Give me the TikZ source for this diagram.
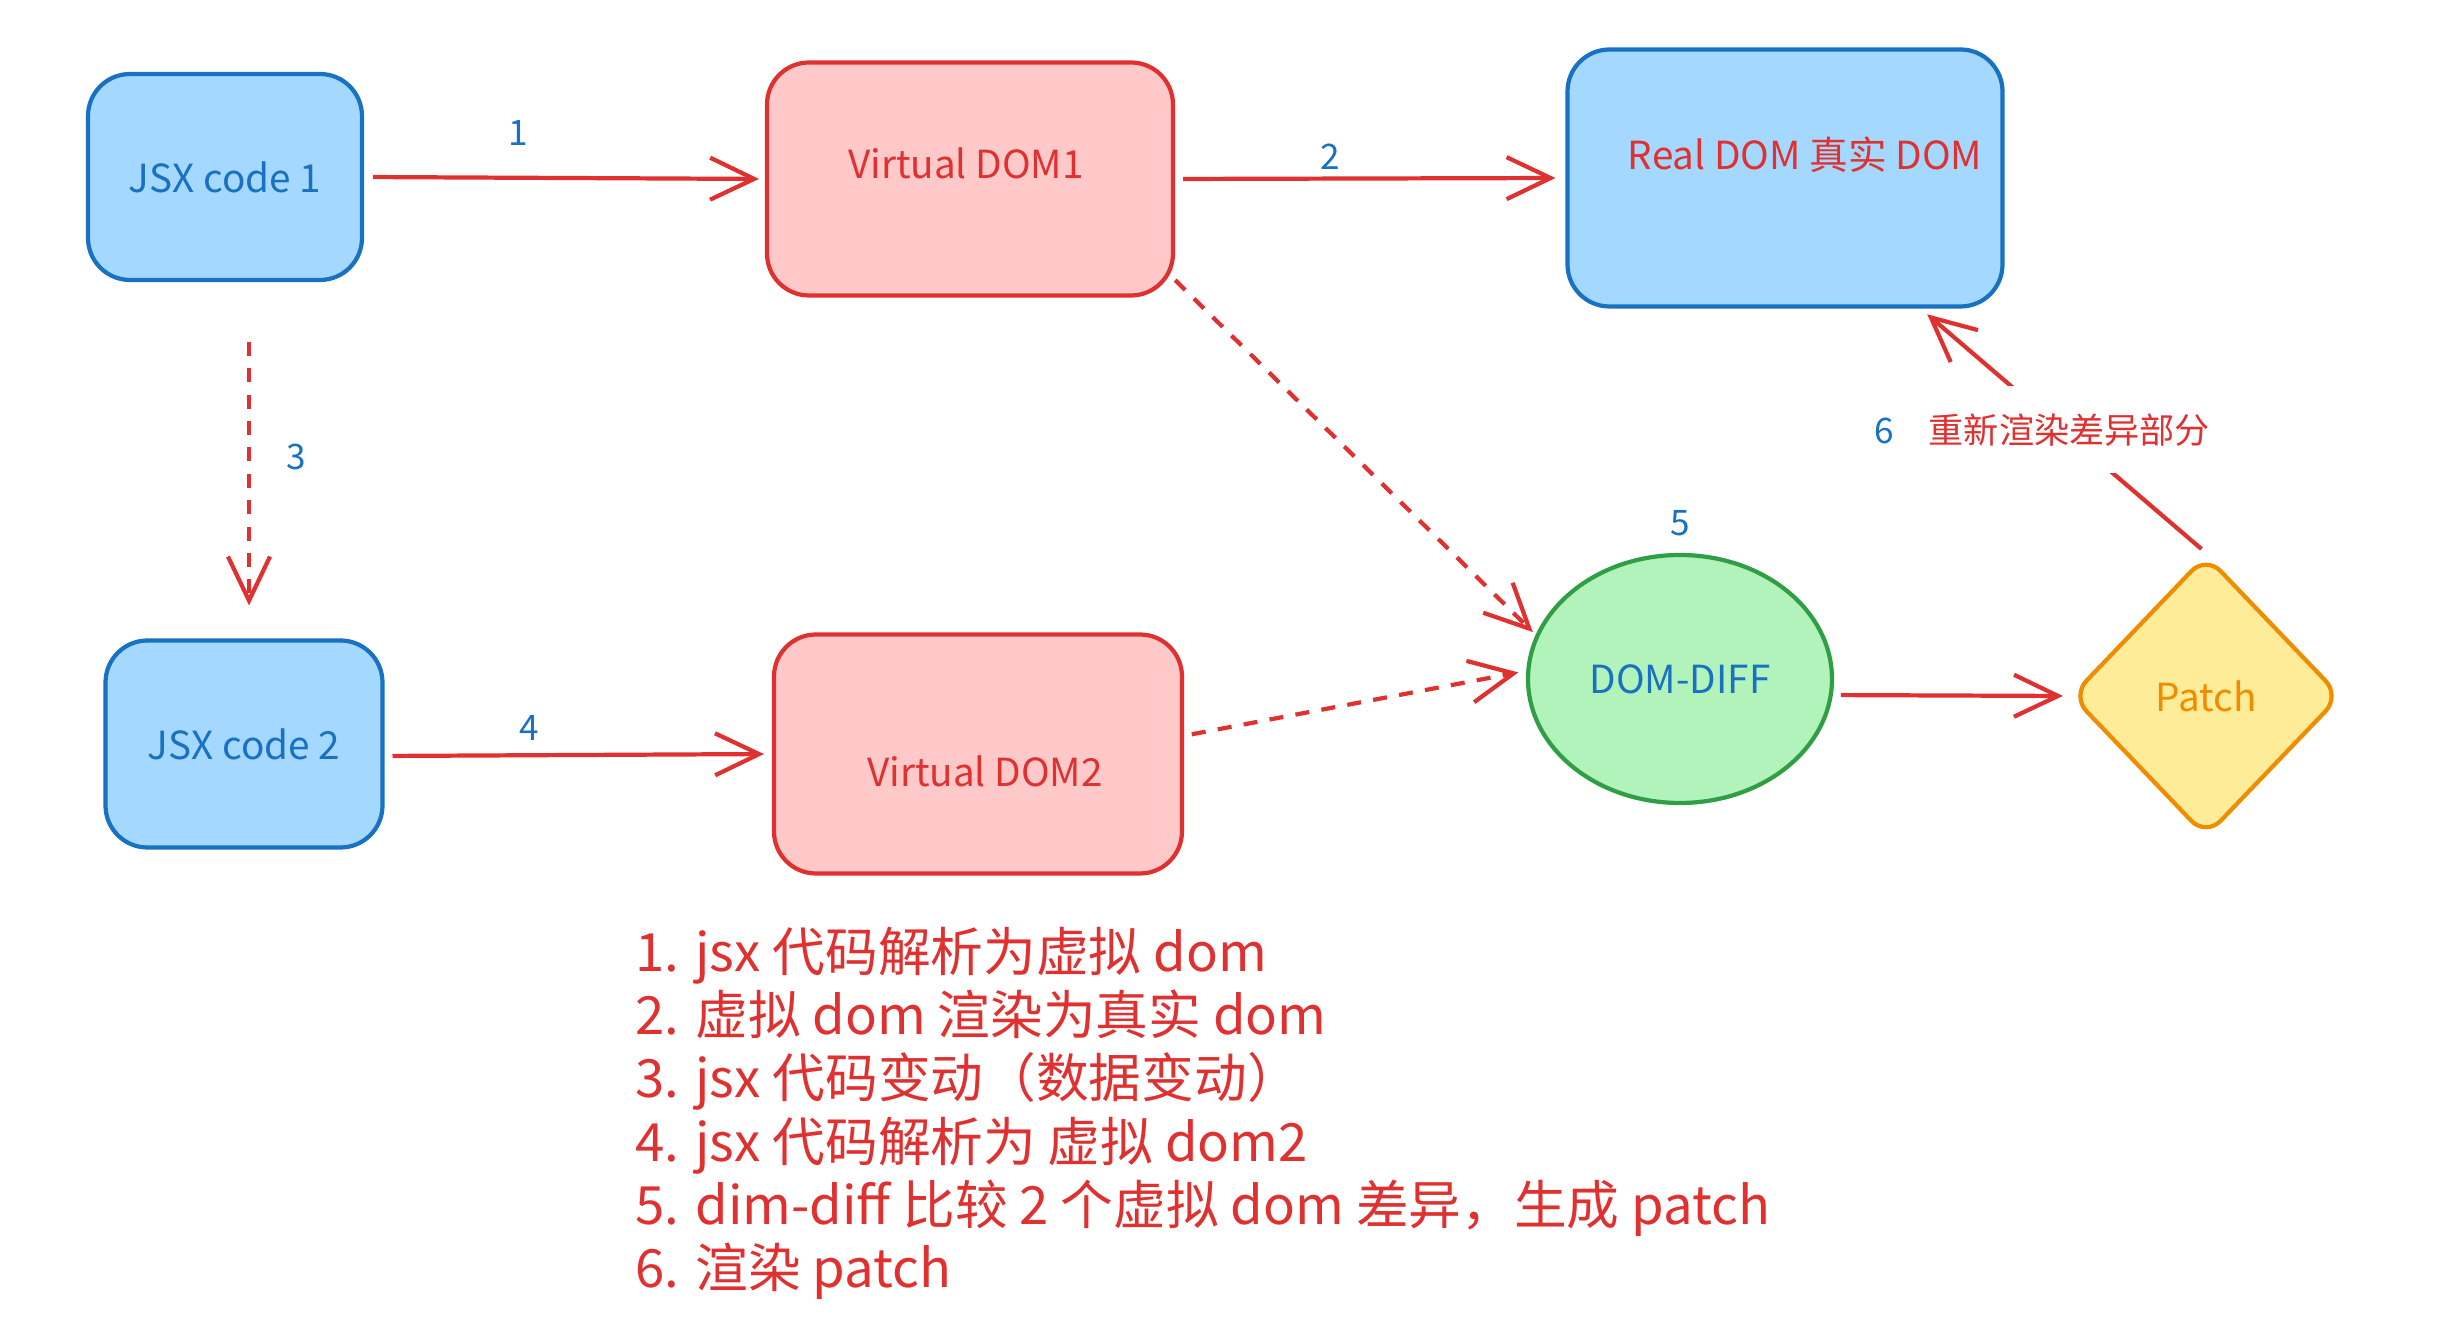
\documentclass[tikz,border=0pt]{standalone}
\usepackage{fontspec}
\setmainfont{Noto Sans CJK SC}
\usetikzlibrary{arrows.meta,shapes.geometric}
\definecolor{boxblue}{HTML}{A5D8FF}
\definecolor{lineblue}{HTML}{1971C2}
\definecolor{boxred}{HTML}{FFC9C9}
\definecolor{linered}{HTML}{E03131}
\definecolor{boxgreen}{HTML}{B2F2BB}
\definecolor{linegreen}{HTML}{2F9E44}
\definecolor{boxyellow}{HTML}{FFEC99}
\definecolor{lineorange}{HTML}{F08C00}
\begin{document}
\begin{tikzpicture}
        [
            box/.style = {draw, rounded corners=0.42cm, line width=1.2pt, inner sep=0pt, outer sep=0pt, font=\fontsize{11}{13}\selectfont},
            bluebox/.style = {box, fill=boxblue, draw=lineblue},
            redbox/.style = {box, fill=boxred, draw=linered},
            boxtext/.style = {inner sep=0pt, font=\fontsize{11}{13}\selectfont},
            num/.style = {text=lineblue, inner sep=0pt, font=\fontsize{10}{12}\selectfont},
            link/.style = {draw=linered, line width=1.2pt, -{Straight Barb[length=0.44cm,width=0.42cm]}},
            dashlink/.style = {link, dash pattern=on 4pt off 3.5pt},
            steptext/.style = {anchor=base west, inner sep=0pt, text=linered, font=\fontsize{15}{18}\selectfont},
        ]
        \useasboundingbox (0,0) rectangle (24.38,-13.26);
        \node [bluebox, minimum width=2.74cm, minimum height=2.06cm, text=lineblue] (jsx1) at (2.25,-1.77) {JSX code 1};
        \node [redbox, minimum width=4.06cm, minimum height=2.33cm] (vdom1) at (9.70,-1.79) {};
        \node [bluebox, minimum width=4.35cm, minimum height=2.57cm] (realdom) at (17.85,-1.78) {};
        \node [bluebox, minimum width=2.77cm, minimum height=2.07cm, text=lineblue] (jsx2) at (2.44,-7.44) {JSX code 2};
        \node [redbox, minimum width=4.08cm, minimum height=2.39cm] (vdom2) at (9.78,-7.54) {};
        \node [ellipse, draw=linegreen, fill=boxgreen, line width=1.2pt, minimum width=3.04cm, minimum height=2.48cm, inner sep=0pt, text=lineblue, font=\fontsize{11}{13}\selectfont] (ddiff) at (16.80,-6.79) {DOM-DIFF};
        \node [diamond, draw=lineorange, fill=boxyellow, line width=1.2pt, rounded corners=6pt, minimum width=2.70cm, minimum height=2.82cm, inner sep=0pt, text=lineorange, font=\fontsize{11}{13}\selectfont] (patch) at (22.06,-6.96) {Patch};
        \node [boxtext, text=linered] (vdom1text) at (9.66,-1.63) {Virtual DOM1};
        \node [boxtext, text=linered] (realdomtext) at (18.05,-1.55) {Real DOM 真实 DOM};
        \node [boxtext, text=linered] (vdom2text) at (9.85,-7.71) {Virtual DOM2};
        \node [num] (n1) at (5.18,-1.33) {1};
        \node [num] (n2) at (13.30,-1.57) {2};
        \node [num] (n3) at (2.96,-4.57) {3};
        \node [num] (n4) at (5.29,-7.28) {4};
        \node [num] (n5) at (16.80,-5.23) {5};
        \draw[link, shorten <=0.11cm, shorten >=0.08cm] (jsx1.east) -- (vdom1.west);
        \draw[link, shorten <=0.10cm, shorten >=0.12cm] (vdom1.east) -- (realdom.west);
        \draw[dashlink, shorten <=0.62cm, shorten >=0.35cm] ([xshift=0.24cm]jsx1.south) -- ([xshift=0.05cm]jsx2.north);
        \draw[link, shorten <=0.10cm, shorten >=0.10cm] ([yshift=-0.12cm]jsx2.east) -- (vdom2.west);
        \draw[dashlink, shorten <=0.03cm, shorten >=0.04cm] (vdom1.-26) -- (ddiff.163);
        \draw[dashlink, shorten <=0.10cm, shorten >=0.08cm] (vdom2.5) -- (ddiff.177);
        \draw[link, shorten <=0.08cm, shorten >=0.06cm] (ddiff.-6) -- (patch.west);
        \draw[link, shorten <=0.06cm, shorten >=0.12cm] (patch.north) -- node [fill=white, inner xsep=1pt, inner ysep=0.27cm, xshift=-0.2cm, text=linered, font=\fontsize{10}{12}\selectfont] (rerender) {{\color{lineblue}6}\quad 重新渲染差异部分} (realdom.-44);
        \node [steptext] (s1) at (6.35,-9.72) {1. jsx 代码解析为虚拟 dom};
        \node [steptext] (s2) at (6.35,-10.35) {2. 虚拟 dom 渲染为真实 dom};
        \node [steptext] (s3) at (6.35,-10.98) {3. jsx 代码变动（数据变动）};
        \node [steptext] (s4) at (6.35,-11.62) {4. jsx 代码解析为 虚拟 dom2};
        \node [steptext] (s5) at (6.35,-12.25) {5. dim-diff 比较 2 个虚拟 dom 差异，生成 patch};
        \node [steptext] (s6) at (6.35,-12.88) {6. 渲染 patch};
    \end{tikzpicture}
\end{document}
